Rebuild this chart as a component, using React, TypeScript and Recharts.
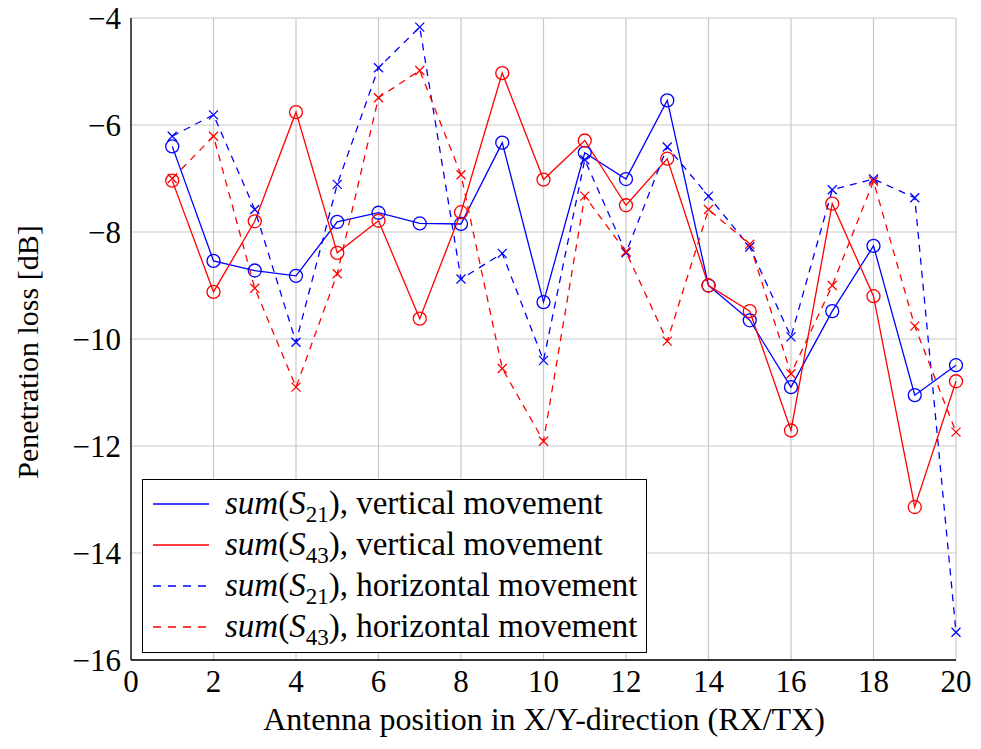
import React from "react";
import {
  LineChart,
  Line,
  XAxis,
  YAxis,
  CartesianGrid,
  Legend,
  Label,
} from "recharts";

const positions = [1, 2, 3, 4, 5, 6, 7, 8, 9, 10, 11, 12, 13, 14, 15, 16, 17, 18, 19, 20];

const s21Vertical = [
  -6.40, -8.54, -8.72, -8.82, -7.81, -7.64, -7.84, -7.85, -6.33, -9.31,
  -6.52, -7.01, -5.54, -9.0, -9.65, -10.9, -9.48, -8.26, -11.05, -10.49,
];
const s43Vertical = [
  -7.04, -9.12, -7.80, -5.76, -8.39, -7.79, -9.62, -7.63, -5.03, -7.02,
  -6.29, -7.50, -6.63, -9.0, -9.48, -11.71, -7.47, -9.20, -13.14, -10.79,
];
const s21Horizontal = [
  -6.21, -5.81, -7.58, -10.06, -7.11, -4.93, -4.17, -8.88, -8.40, -10.40,
  -6.65, -8.39, -6.41, -7.33, -8.28, -9.96, -7.21, -7.01, -7.36, -15.48,
];
const s43Horizontal = [
  -7.0, -6.21, -9.05, -10.9, -8.78, -5.49, -4.98, -6.93, -10.55, -11.91,
  -7.33, -8.37, -10.04, -7.58, -8.23, -10.65, -9.0, -7.05, -9.76, -11.74,
];

const xTicks = [0, 2, 4, 6, 8, 10, 12, 14, 16, 18, 20];
const yTicks = [-16, -14, -12, -10, -8, -6, -4];

const data = positions.map((p, i) => ({
  pos: p,
  s21v: s21Vertical[i],
  s43v: s43Vertical[i],
  s21h: s21Horizontal[i],
  s43h: s43Horizontal[i],
}));

const FONT = "Liberation Serif, Times New Roman, Tinos, DejaVu Serif, serif";
const BLUE = "#0000ff";
const RED = "#ff0000";

const series = [
  { key: "s21v", color: BLUE, dashed: false, sub: "21", text: "vertical movement" },
  { key: "s43v", color: RED, dashed: false, sub: "43", text: "vertical movement" },
  { key: "s21h", color: BLUE, dashed: true, sub: "21", text: "horizontal movement" },
  { key: "s43h", color: RED, dashed: true, sub: "43", text: "horizontal movement" },
];

const circleDot = (color: string) => (props: any) => {
  const { cx, cy, index } = props;
  return <circle key={index} cx={cx} cy={cy} r={6.5} fill="none" stroke={color} strokeWidth={1.3} />;
};

const crossDot = (color: string) => (props: any) => {
  const { cx, cy, index } = props;
  const s = 4.5;
  return (
    <path
      key={index}
      d={`M${cx - s},${cy - s}L${cx + s},${cy + s}M${cx - s},${cy + s}L${cx + s},${cy - s}`}
      stroke={color}
      strokeWidth={1.3}
      fill="none"
    />
  );
};

const fmt = (v: number) => String(v).replace("-", "\u2212");

const LegendBox = () => (
  <div
    style={{
      boxSizing: "border-box",
      border: "1.5px solid #000",
      background: "#fff",
      width: 505,
      height: 174,
      paddingTop: 3,
      fontFamily: FONT,
      fontSize: 33,
      color: "#000",
    }}
  >
    {series.map((s) => (
      <div key={s.key} style={{ display: "flex", alignItems: "center", height: 41 }}>
        <svg width={73} height={10} style={{ marginLeft: 9, flex: "none" }}>
          <line
            x1={1}
            y1={5}
            x2={57}
            y2={5}
            stroke={s.color}
            strokeWidth={1.3}
            strokeDasharray={s.dashed ? "8 7" : undefined}
          />
        </svg>
        <span style={{ whiteSpace: "nowrap", lineHeight: "41px" }}>
          <i>sum</i>(<i>S</i>
          <sub style={{ fontSize: 23, lineHeight: 0 }}>{s.sub}</sub>), {s.text}
        </span>
      </div>
    ))}
  </div>
);

const YTitle = () => {
  const x = 27;
  const y = 352;
  return (
    <text
      x={x}
      y={y}
      transform={`rotate(-90 ${x} ${y})`}
      textAnchor="middle"
      dominantBaseline="central"
      fill="#000"
      fontFamily={FONT}
      fontSize={30}
    >
      Penetration loss [dB]
    </text>
  );
};

const XTitle = () => (
  <text x={544} y={730} textAnchor="middle" fill="#000" fontFamily={FONT} fontSize={32}>
    Antenna position in X/Y-direction (RX/TX)
  </text>
);

export default function App() {
  return (
    <div style={{ position: "absolute", left: 0, top: 0, background: "#fff" }}>
      <LineChart
        width={981}
        height={749}
        data={data}
        margin={{ top: 18, right: 25, bottom: 19, left: 0 }}
      >
        <CartesianGrid stroke="#c8c8c8" strokeWidth={1.2} />
        <XAxis
          dataKey="pos"
          type="number"
          domain={[0, 20]}
          ticks={xTicks}
          height={70}
          stroke="#000"
          strokeWidth={1.3}
          tickLine={false}
          tickSize={6}
          tickMargin={4}
          tick={{ fill: "#000", fontFamily: FONT, fontSize: 31 }}
        >
          <Label content={XTitle} />
        </XAxis>
        <YAxis
          type="number"
          domain={[-16, -4]}
          ticks={yTicks}
          width={131}
          stroke="#000"
          strokeWidth={1.3}
          tickLine={false}
          tickSize={4}
          tickMargin={6}
          tickFormatter={fmt}
          tick={{ fill: "#000", fontFamily: FONT, fontSize: 31 }}
        >
          <Label content={YTitle} />
        </YAxis>
        <Legend
          layout="horizontal"
          verticalAlign="middle"
          align="center"
          content={() => <LegendBox />}
          wrapperStyle={{ left: 142, top: 479, width: 505 }}
        />
        {series.map((s) => (
          <Line
            key={s.key}
            dataKey={s.key}
            type="linear"
            stroke={s.color}
            strokeWidth={1.3}
            strokeDasharray={s.dashed ? "7 6" : undefined}
            dot={s.dashed ? crossDot(s.color) : circleDot(s.color)}
            activeDot={false}
            isAnimationActive={false}
          />
        ))}
      </LineChart>
    </div>
  );
}
